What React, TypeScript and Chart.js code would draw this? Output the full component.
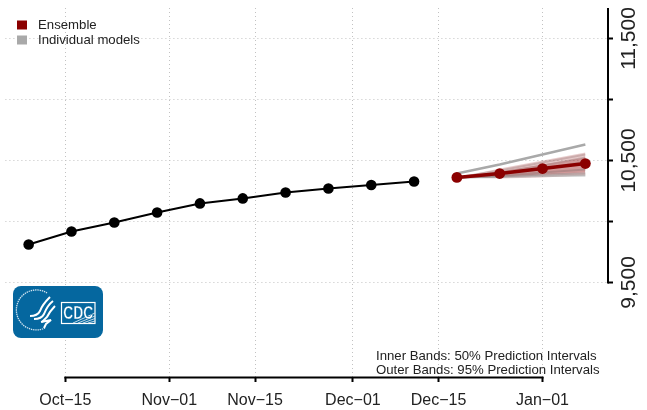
import React, { useEffect, useRef } from "react";
import { Chart, registerables } from "chart.js";

Chart.register(...registerables);

const FONT = '"Liberation Sans", Arial, sans-serif';

// Day numbers counted from Oct-01 = 0
const tickDays = [14, 31, 45, 61, 75, 92];
const tickLabels = ["Oct\u221215", "Nov\u221201", "Nov\u221215", "Dec\u221201", "Dec\u221215", "Jan\u221201"];
const yTicks = [9500, 10000, 10500, 11000, 11500];
const yTickLabels: Record<number, string> = { 9500: "9,500", 10500: "10,500", 11500: "11,500" };

const observedDays = [8, 15, 22, 29, 36, 43, 50, 57, 64, 71];
const observedValues = [9811, 9918, 9992, 10074, 10148, 10189, 10238, 10270, 10299, 10328];

const forecastDays = [78, 85, 92, 99];
const ensembleValues = [10361, 10393, 10434, 10475];
const outerUpper = [10361, 10434, 10500, 10566];
const outerLower = [10361, 10353, 10361, 10377];
const innerUpper = [10361, 10410, 10467, 10525];
const innerLower = [10361, 10369, 10385, 10402];

const modelTop = [10394, 10467, 10549, 10631];
const modelB = [10361, 10418, 10484, 10549];
const modelC = [10361, 10402, 10459, 10525];
const modelD = [10361, 10385, 10426, 10492];
const modelE = [10361, 10377, 10402, 10426];
const modelF = [10361, 10369, 10385, 10394];
const modelG = [10361, 10365, 10373, 10377];

const legendItems = [
  { label: "Ensemble", color: "#8B0000" },
  { label: "Individual models", color: "#A9A9A9" },
];
const noteLines = ["Inner Bands: 50% Prediction Intervals", "Outer Bands: 95% Prediction Intervals"];

const pts = (xs: number[], ys: number[]) => xs.map((x, i) => ({ x, y: ys[i] }));

const decorPlugin = {
  id: "decor",
  afterDatasetsDraw(chart: any) {
    const { ctx, scales } = chart;
    const x = scales.x;
    const y = scales.y;
    ctx.save();
    ctx.strokeStyle = "#000";
    ctx.lineWidth = 2;
    ctx.beginPath();
    ctx.moveTo(x.getPixelForValue(tickDays[0]) - 1, y.bottom + 0.5);
    ctx.lineTo(x.getPixelForValue(tickDays[tickDays.length - 1]) + 1, y.bottom + 0.5);
    ctx.moveTo(y.left, y.getPixelForValue(yTicks[0]) + 1);
    ctx.lineTo(y.left, y.top);
    ctx.stroke();

    ctx.font = `13.2px ${FONT}`;
    ctx.textBaseline = "middle";
    ctx.textAlign = "left";
    legendItems.forEach((it, i) => {
      const cy = 25 + i * 15;
      ctx.fillStyle = it.color;
      ctx.fillRect(17, cy - 4.5, 10, 9);
      ctx.fillStyle = "#222";
      ctx.fillText(it.label, 38, cy);
    });
    noteLines.forEach((t, i) => {
      ctx.fillStyle = "#222";
      ctx.fillText(t, 376, 356 + i * 14.5);
    });
    ctx.restore();
  },
};

function CdcLogo() {
  return (
    <svg
      width={90}
      height={52}
      viewBox="0 0 90 52"
      style={{ position: "absolute", left: 13, top: 286, display: "block" }}
    >
      <rect x={0} y={0} width={90} height={52} rx={8} fill="#05679F" />
      <path
        d="M 34 7 A 20 20 0 1 0 32 42"
        fill="none"
        stroke="#cfe3f0"
        strokeWidth={1.3}
        strokeDasharray="1.4 0.8"
      />
      <path d="M 37 11 C 33 15 29 19 27 25 C 25 29 21 30 17 30" fill="none" stroke="#fff" strokeWidth={2} />
      <path d="M 40 15 C 36 18 33 23 31 28 C 29 32 25 33 21 33" fill="none" stroke="#fff" strokeWidth={2} />
      <path d="M 42 20 C 39 23 36 27 34 31 L 29 36" fill="none" stroke="#fff" strokeWidth={2} />
      <path d="M 28 36 L 38 34 L 33 38 L 31 42" fill="none" stroke="#fff" strokeWidth={2} />
      <rect x={48.5} y={16.5} width={33.5} height={21} fill="#05679F" stroke="#fff" strokeWidth={1.2} />
      <path
        d="M 60 37 L 82 27 M 65 37 L 82 30 M 70 37 L 82 32.5 M 75 37 L 82 35"
        stroke="#d6e6f2"
        strokeWidth={0.9}
      />
      <text
        x={65.2}
        y={32.8}
        textAnchor="middle"
        textLength={30}
        lengthAdjust="spacingAndGlyphs"
        fontFamily={FONT}
        fontWeight="bold"
        fontSize={18}
        fill="#fff"
        stroke="#05679F"
        strokeWidth={0.4}
      >
        CDC
      </text>
    </svg>
  );
}

export default function App() {
  const ref = useRef<HTMLCanvasElement | null>(null);

  useEffect(() => {
    const modelLine = (values: number[], color: string, width: number, order: number) => ({
      data: pts(forecastDays, values),
      borderColor: color,
      borderWidth: width,
      pointRadius: 0,
      fill: false,
      order,
    });
    const band = (values: number[], fill: any, bg: string, order: number) => ({
      data: pts(forecastDays, values),
      borderWidth: 0,
      borderColor: "transparent",
      backgroundColor: bg,
      pointRadius: 0,
      fill,
      order,
    });
    const chart = new Chart(ref.current as HTMLCanvasElement, {
      type: "line",
      data: {
        datasets: [
          band(outerUpper, "+1", "rgba(139,0,0,0.2)", 6),
          band(outerLower, false, "transparent", 6),
          band(innerUpper, "+1", "rgba(139,0,0,0.25)", 5),
          band(innerLower, false, "transparent", 5),
          modelLine(modelB, "rgba(169,130,130,0.45)", 2, 4),
          modelLine(modelC, "rgba(169,130,130,0.45)", 2, 4),
          modelLine(modelD, "rgba(169,130,130,0.45)", 2, 4),
          modelLine(modelE, "rgba(150,120,120,0.5)", 2, 4),
          modelLine(modelF, "rgba(150,130,130,0.55)", 2, 4),
          modelLine(modelG, "rgba(169,169,169,0.7)", 2, 4),
          modelLine(modelTop, "#A9A9A9", 2.5, 3),
          {
            data: pts(observedDays, observedValues),
            borderColor: "#000",
            backgroundColor: "#000",
            borderWidth: 2,
            pointRadius: 5.3,
            pointBorderWidth: 0,
            fill: false,
            order: 2,
          },
          {
            data: pts(forecastDays, ensembleValues),
            borderColor: "#8B0000",
            backgroundColor: "#8B0000",
            borderWidth: 3.5,
            pointRadius: 5.4,
            pointBorderWidth: 0,
            fill: false,
            order: 1,
          },
        ],
      } as any,
      options: {
        animation: false,
        responsive: false,
        layout: { padding: { left: 5, right: 0, top: 8, bottom: 0 } },
        plugins: { legend: { display: false }, tooltip: { enabled: false } },
        scales: {
          x: {
            type: "linear",
            min: 4.2,
            max: 102.7,
            afterBuildTicks: (s: any) => {
              s.ticks = tickDays.map((value) => ({ value }));
            },
            afterFit: (s: any) => {
              s.height = 33;
            },
            grid: {
              color: "#C2C2C2",
              lineWidth: 1,
              tickColor: "#000",
              tickWidth: 2,
              tickLength: 5,
            },
            border: { display: false, dash: [1, 3] },
            ticks: {
              autoSkip: false,
              maxRotation: 0,
              minRotation: 0,
              padding: 9,
              color: "#222",
              font: { family: FONT, size: 16 },
              callback: (v: any) => tickLabels[tickDays.indexOf(Number(v))] ?? "",
            },
          },
          y: {
            type: "linear",
            position: "right",
            min: 8725,
            max: 11750,
            afterBuildTicks: (s: any) => {
              s.ticks = yTicks.map((value) => ({ value }));
            },
            afterFit: (s: any) => {
              s.width = 39;
            },
            grid: {
              color: "#C2C2C2",
              lineWidth: 1,
              tickColor: "#000",
              tickWidth: 2,
              tickLength: 5,
            },
            border: { display: false, dash: [1, 3] },
            ticks: {
              autoSkip: false,
              minRotation: 90,
              maxRotation: 90,
              crossAlign: "center",
              padding: -16,
              color: "#222",
              font: { family: FONT, size: 21 },
              callback: (v: any) => yTickLabels[Number(v)] ?? "",
            },
          },
        },
      } as any,
      plugins: [decorPlugin],
    } as any);
    return () => chart.destroy();
  }, []);

  return (
    <div style={{ position: "absolute", left: 0, top: 0, width: 647, height: 410, background: "#fff" }}>
      <canvas ref={ref} width={647} height={410} style={{ display: "block" }} />
      <CdcLogo />
    </div>
  );
}
